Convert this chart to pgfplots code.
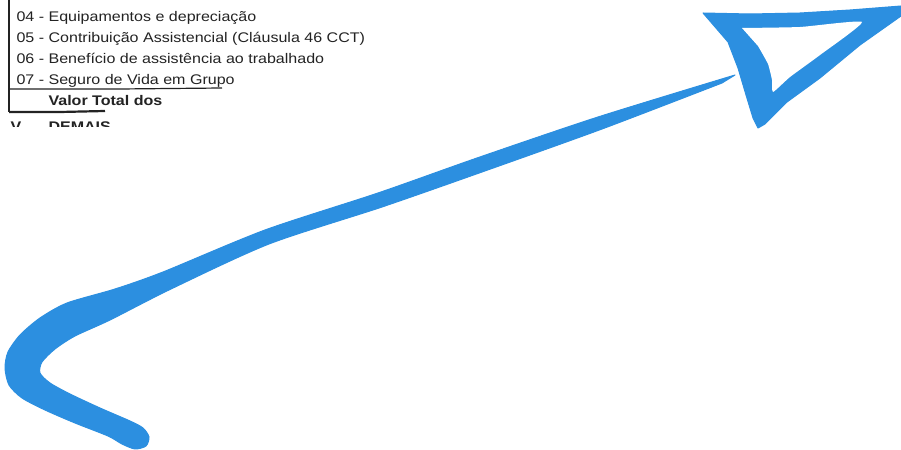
\documentclass[border=0pt]{standalone}
\usepackage{pgfplots}
\pgfplotsset{compat=1.18}
\usepackage{fontspec}
\setmainfont{Liberation Sans}[FakeStretch=1.15]
\definecolor{pen}{RGB}{44,143,224}
\definecolor{ink}{RGB}{35,35,35}

\begin{document}
\begin{tikzpicture}
	\begin{axis}[
		width=901bp, height=450bp, scale only axis,
		xmin=0, xmax=901,
		ymin=0, ymax=450, y dir=reverse,
		axis lines=none,
		axis background/.style={fill=white},
		clip=true,
		]
		% scanned table rows
		\node[anchor=base west, text=ink, font=\fontsize{14}{16}\selectfont] at (axis cs:13,21.5) {04 - Equipamentos e depreciação};
		\node[anchor=base west, text=ink, font=\fontsize{14}{16}\selectfont] at (axis cs:13,42.5) {05 - Contribuição Assistencial (Cláusula 46 CCT)};
		\node[anchor=base west, text=ink, font=\fontsize{14}{16}\selectfont] at (axis cs:13,64) {06 - Benefício de assistência ao trabalhado};
		\node[anchor=base west, text=ink, font=\fontsize{14}{16}\selectfont] at (axis cs:13,84.5) {07 - Seguro de Vida em Grupo};
		\node[anchor=base west, text=ink, font=\bfseries\fontsize{14}{16}\selectfont] at (axis cs:45,105.5) {Valor Total dos};
		\node[anchor=base west, text=ink, font=\bfseries\fontsize{14}{16}\selectfont] at (axis cs:7,132) {V};
		\node[anchor=base west, text=ink, font=\bfseries\fontsize{14}{16}\selectfont] at (axis cs:45,132) {DEMAIS};
		% white paper below the cut
		\addplot[fill=white, draw=none] coordinates {(0,127.5) (300,127.5) (300,200) (0,200)} -- cycle;

		% table rules
		\addplot[ink, line width=1.6bp] coordinates {(9,0) (9,112)};
		\addplot[ink, line width=1.2bp] coordinates {(9,89) (120,89) (222,88)};
		\addplot[ink, line width=2.2bp] coordinates {(9,112) (60,112) (105,111)};

		% hand-drawn stroke
		\addplot[fill=pen, draw=pen, line width=1bp, line join=round, smooth, tension=0.45] coordinates {
			(735,75) (598,117) (477,158) (378,193) (265,230) (163,272)
			(115,289) (67,303) (40,318) (20,335) (8,352) (5,368) (9,385)
			(22,398) (45,410) (75,423) (108,436) (122,444) (135,449)
			(146,446) (149,437) (143,428) (130,421) (100,408) (70,394)
			(50,383) (40,373) (42,362) (55,349) (75,336) (110,320)
			(171,289) (269,244) (382,207) (482,172) (602,129) (722,83)
		} -- cycle;

		% arrow head
		\addplot[fill=pen, draw=pen, line width=1bp, line join=round] coordinates {
			(703,13) (750,14) (800,13) (850,10) (901,6) (901,16)
			(860,45) (820,78) (787,102) (765,124) (758,128)
			(753,118) (746,95) (738,68) (728,42)
		} -- cycle;
		\addplot[fill=white, draw=none, smooth, tension=0.3] coordinates {
			(742,28) (800,27) (862,22) (820,55) (790,77) (773,92)
			(772,80) (768,64) (758,46)
		} -- cycle;
	\end{axis}
\end{tikzpicture}
\end{document}
